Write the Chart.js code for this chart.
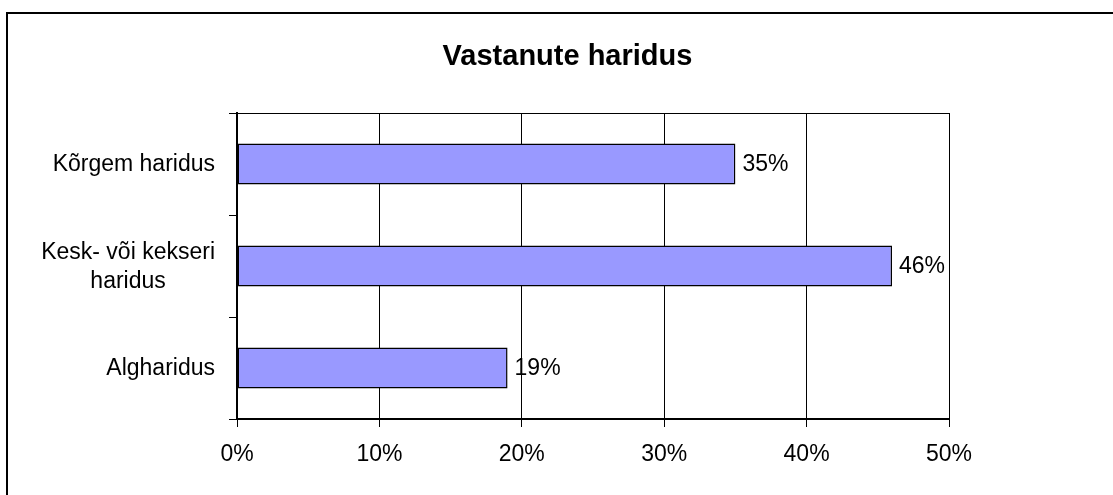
<!DOCTYPE html>
<html>
<head>
<meta charset="utf-8">
<script src="https://cdn.jsdelivr.net/npm/chart.js@4"></script>
<style>
  html, body { margin: 0; padding: 0; background: #fff; overflow: hidden; width: 1113px; height: 495px; }
  #frame { position: absolute; left: 6px; top: 12px; width: 1107px; height: 483px; border-left: 2px solid #000; border-top: 2px solid #000; box-sizing: border-box; }
  #c { position: absolute; left: 0; top: 0; }
</style>
</head>
<body>
<div id="frame"></div>
<canvas id="c" width="1113" height="495"></canvas>
<script>
const TITLE = 'Vastanute haridus';
const CATEGORIES = [['Kõrgem haridus'], ['Kesk- või kekseri', 'haridus'], ['Algharidus']];
const VALUES = [35, 46, 19];
const X_TICKS = [0, 10, 20, 30, 40, 50];

const FONT = '"Liberation Sans", Arial, sans-serif';
const FS = 23;

const extras = {
  id: 'extras',
  beforeDraw(chart) {
    const ctx = chart.ctx;
    ctx.save();
    ctx.fillStyle = '#000';
    ctx.font = 'bold 29px ' + FONT;
    ctx.textAlign = 'center';
    ctx.textBaseline = 'middle';
    ctx.fillText(TITLE, 567.5, 57);
    ctx.restore();
  },
  afterDraw(chart) {
    const ctx = chart.ctx;
    const a = chart.chartArea;
    const ys = chart.scales.y;
    ctx.save();
    ctx.strokeStyle = '#000';
    ctx.lineWidth = 1;
    ctx.beginPath();
    ctx.moveTo(Math.round(ys.right) - 8, Math.round(a.top) + 0.5);
    ctx.lineTo(Math.round(a.right), Math.round(a.top) + 0.5);
    ctx.stroke();
    // category labels
    ctx.fillStyle = '#000';
    ctx.font = FS + 'px ' + FONT;
    ctx.textAlign = 'center';
    ctx.textBaseline = 'middle';
    const lh = 29;
    CATEGORIES.forEach((lines, i) => {
      const yc = ys.getPixelForValue(i);
      const w = Math.max(...lines.map(l => ctx.measureText(l).width));
      const xc = a.left - 22 - w / 2;
      const y0 = yc - (lines.length - 1) * lh / 2 + 1;
      lines.forEach((l, j) => ctx.fillText(l, xc, y0 + j * lh));
    });
    // value labels
    ctx.textAlign = 'left';
    const meta = chart.getDatasetMeta(0);
    meta.data.forEach((bar, i) => {
      ctx.fillText(VALUES[i] + '%', bar.x + 7, bar.y + 1);
    });
    ctx.restore();
  }
};

new Chart(document.getElementById('c'), {
  type: 'bar',
  data: {
    labels: CATEGORIES,
    datasets: [{
      data: VALUES,
      backgroundColor: '#9999FF',
      borderColor: '#000',
      borderWidth: 1.5,
      borderSkipped: false,
      categoryPercentage: 1,
      barPercentage: 0.4
    }]
  },
  options: {
    indexAxis: 'y',
    responsive: false,
    animation: false,
    devicePixelRatio: 1,
    layout: { padding: { top: 113, right: 164, bottom: 0, left: 0 } },
    plugins: { legend: { display: false }, title: { display: false }, tooltip: { enabled: false } },
    scales: {
      x: {
        min: 0, max: 50,
        afterBuildTicks(scale) { scale.ticks = X_TICKS.map(v => ({ value: v })); },
        afterFit(scale) { scale.height = 76; },
        grid: { color: '#000', lineWidth: 1, tickLength: 8, drawTicks: true },
        border: { color: '#000', width: 2 },
        ticks: { color: '#000', padding: 14, font: { family: FONT, size: FS }, callback: v => v + '%', maxRotation: 0 }
      },
      y: {
        afterFit(scale) { scale.width = 237; },
        grid: { drawOnChartArea: false, color: '#000', lineWidth: 1, tickLength: 8, offset: true },
        border: { color: '#000', width: 2 },
        ticks: { display: false }
      }
    }
  },
  plugins: [extras]
});
</script>
</body>
</html>
